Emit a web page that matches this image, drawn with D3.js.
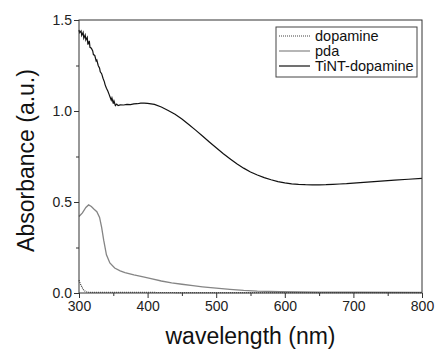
<!DOCTYPE html>
<html>
<head>
<meta charset="utf-8">
<script src="https://cdn.jsdelivr.net/npm/d3@7"></script>
<style>
  body { margin: 0; background: #fff; }
  svg { display: block; font-family: "Liberation Sans", Arial, sans-serif; }
</style>
</head>
<body>
<div id="chart"></div>
<script>
// UV-vis spectra
const seriesNames = ['dopamine', 'pda', 'TiNT-dopamine'];

const dopamineX = [300, 302, 304, 306, 308, 310, 314, 320, 350, 400, 500, 600, 700, 800];
const dopamineY = [0.07, 0.05, 0.035, 0.02, 0.012, 0.007, 0.004, 0.003, 0.003, 0.003, 0.002, 0.002, 0.002, 0.002];

const pdaX = [300, 305, 310, 314, 318, 322, 326, 330, 333, 336, 340, 345, 352, 360, 367, 380, 392, 405, 420, 435, 450, 466, 480, 500, 520, 540, 560, 593, 650, 700, 800];
const pdaY = [0.42, 0.44, 0.47, 0.484, 0.475, 0.46, 0.447, 0.415, 0.36, 0.29, 0.21, 0.165, 0.137, 0.122, 0.112, 0.1, 0.09, 0.079, 0.066, 0.056, 0.048, 0.04, 0.034, 0.027, 0.02, 0.014, 0.01, 0.007, 0.005, 0.004, 0.003];

const tintX = [300, 301, 303, 304, 306, 307, 309, 310, 312, 313, 315, 316, 318, 320, 321, 323, 325, 326, 328, 330, 331, 333, 335, 337, 338, 340, 342, 344, 345, 347, 348, 350, 351, 353, 355, 357, 360, 365, 370, 375, 380, 385, 390, 395, 400, 410, 420, 430, 440, 450, 460, 470, 480, 490, 500, 510, 520, 530, 540, 550, 560, 570, 580, 590, 600, 610, 620, 630, 640, 650, 660, 670, 680, 690, 700, 720, 740, 760, 780, 800];
const tintY = [1.445, 1.43, 1.44, 1.415, 1.432, 1.4, 1.418, 1.39, 1.405, 1.365, 1.385, 1.35, 1.345, 1.33, 1.31, 1.305, 1.275, 1.28, 1.25, 1.235, 1.215, 1.205, 1.18, 1.16, 1.145, 1.125, 1.11, 1.09, 1.08, 1.06, 1.072, 1.04, 1.055, 1.03, 1.038, 1.03, 1.034, 1.033, 1.036, 1.035, 1.039, 1.04, 1.043, 1.043, 1.042, 1.036, 1.022, 1.003, 0.982, 0.956, 0.926, 0.895, 0.863, 0.83, 0.798, 0.767, 0.738, 0.71, 0.686, 0.665, 0.648, 0.634, 0.622, 0.612, 0.605, 0.6, 0.597, 0.595, 0.594, 0.594, 0.595, 0.597, 0.599, 0.601, 0.604, 0.609, 0.615, 0.62, 0.625, 0.63];

const xTicks = [300, 400, 500, 600, 700, 800];
const xMinor = [350, 450, 550, 650, 750];
const yTicks = [0.0, 0.5, 1.0, 1.5];
const yMinor = [0.25, 0.75, 1.25];

const width = 436, height = 352;
const margin = {top: 20, right: 14, bottom: 59, left: 79};

const svg = d3.select('#chart').append('svg')
  .attr('width', width)
  .attr('height', height);

const x = d3.scaleLinear().domain([300, 800]).range([margin.left, width - margin.right]);
const y = d3.scaleLinear().domain([0, 1.5]).range([height - margin.bottom, margin.top]);

const line = d3.line().x(d => x(d[0])).y(d => y(d[1]));
const zip = (a, b) => a.map((v, i) => [v, b[i]]);

const plot = svg.append('g');

plot.append('path')
  .datum(zip(pdaX, pdaY))
  .attr('d', line)
  .attr('fill', 'none')
  .attr('stroke', '#858585')
  .attr('stroke-width', 1.3);

plot.append('path')
  .datum(zip(dopamineX, dopamineY))
  .attr('d', line)
  .attr('fill', 'none')
  .attr('stroke', '#444')
  .attr('stroke-width', 1.2)
  .attr('stroke-dasharray', '1,1');

plot.append('path')
  .datum(zip(tintX, tintY))
  .attr('d', line)
  .attr('fill', 'none')
  .attr('stroke', '#111')
  .attr('stroke-width', 1.2);

// frame
svg.append('rect')
  .attr('x', x(300)).attr('y', y(1.5))
  .attr('width', x(800) - x(300)).attr('height', y(0) - y(1.5))
  .attr('fill', 'none').attr('stroke', '#333').attr('stroke-width', 1);

// axes
const fontSize = '14px';
svg.append('g')
  .attr('transform', `translate(0,${y(0)})`)
  .call(d3.axisBottom(x).tickValues(xTicks).tickSize(5).tickPadding(3).tickFormat(d3.format('d')));
svg.append('g')
  .attr('transform', `translate(0,${y(0)})`)
  .call(d3.axisBottom(x).tickValues(xMinor).tickSize(3).tickFormat(''));

svg.append('g')
  .attr('transform', `translate(${x(300)},0)`)
  .call(d3.axisLeft(y).tickValues(yTicks).tickSize(5).tickPadding(2).tickFormat(d3.format('.1f')));
svg.append('g')
  .attr('transform', `translate(${x(300)},0)`)
  .call(d3.axisLeft(y).tickValues(yMinor).tickSize(3).tickFormat(''));

svg.selectAll('.domain').remove();
svg.selectAll('.tick line').attr('stroke', '#333');
svg.selectAll('.tick text')
  .attr('fill', '#222')
  .style('font-size', fontSize)
  .style('font-family', '"Liberation Sans", Arial, sans-serif');

// axis titles
svg.append('text')
  .attr('x', (x(300) + x(800)) / 2)
  .attr('y', 344)
  .attr('text-anchor', 'middle')
  .attr('fill', '#111')
  .style('font-size', '23px')
  .text('wavelength (nm)');

svg.append('text')
  .attr('transform', `translate(34,${(y(0) + y(1.5)) / 2 + 4}) rotate(-90)`)
  .attr('text-anchor', 'middle')
  .attr('fill', '#111')
  .style('font-size', '23px')
  .text('Absorbance (a.u.)');

// legend
const legend = svg.append('g').attr('transform', 'translate(276,27)');
legend.append('rect')
  .attr('width', 141).attr('height', 50)
  .attr('fill', '#fff').attr('stroke', '#444').attr('stroke-width', 1);

const legendStyles = [
  {stroke: '#444', dash: '1,1'},
  {stroke: '#858585', dash: null},
  {stroke: '#111', dash: null}
];

seriesNames.forEach((name, i) => {
  const row = legend.append('g').attr('transform', `translate(0,${9 + i * 15})`);
  row.append('line')
    .attr('x1', 3).attr('x2', 34)
    .attr('stroke', legendStyles[i].stroke)
    .attr('stroke-width', 1.2)
    .attr('stroke-dasharray', legendStyles[i].dash);
  row.append('text')
    .attr('x', 39).attr('y', 5)
    .attr('fill', '#111')
    .style('font-size', '14.5px')
    .text(name);
});
</script>
</body>
</html>
